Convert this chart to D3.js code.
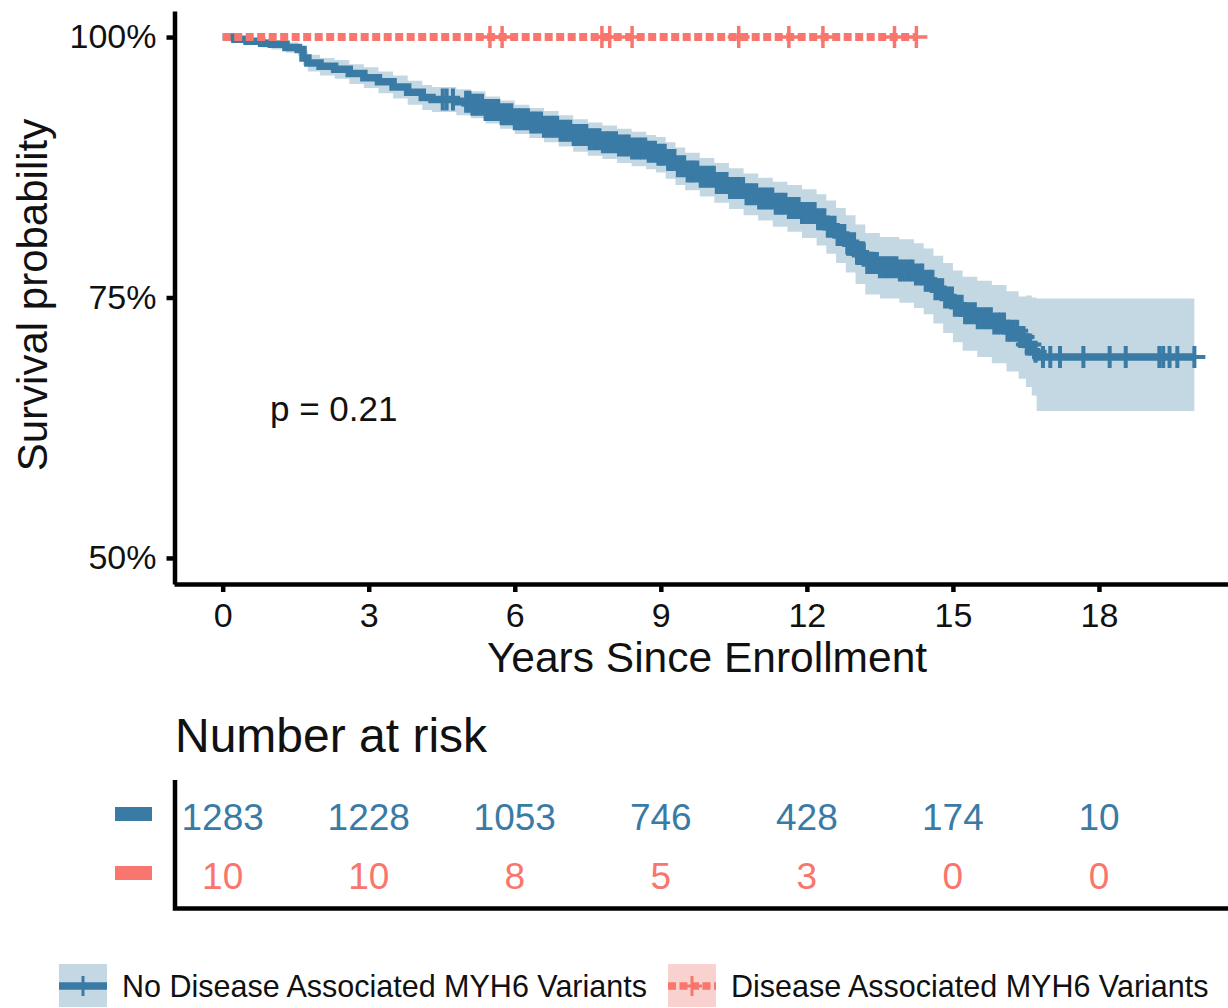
<!DOCTYPE html>
<html><head><meta charset="utf-8">
<script src="https://cdn.jsdelivr.net/npm/d3@7"></script>
<style>
body{margin:0;background:#fff}
svg{display:block}
text{font-family:"Liberation Sans",Arial,Helvetica,sans-serif}
</style>
</head><body>
<svg id="chart" width="1228" height="1008"></svg>
<script>
// ---------- DATA ----------
const groups = ["No Disease Associated MYH6 Variants", "Disease Associated MYH6 Variants"];

const stepTimesNo = [0,0.25,0.5,0.8,1.0,1.3,1.55,1.65,1.75,2.0,2.3,2.6,2.9,3.2,3.5,3.8,4.1,4.3,4.8,5.1,5.4,5.7,6.0,6.3,6.6,6.9,7.2,7.5,7.8,8.1,8.4,8.7,8.9,9.1,9.3,9.5,9.8,10.1,10.4,10.7,11.0,11.3,11.6,11.9,12.2,12.4,12.6,12.8,13.0,13.2,13.5,13.9,14.2,14.4,14.6,14.8,15.0,15.2,15.5,15.8,16.1,16.35,16.5,16.62,16.72,19.96];
const survNo = [1,.998,.996,.994,.993,.990,.988,.980,.975,.972,.969,.965,.961,.957,.952,.947,.942,.940,.938,.935,.930,.926,.921,.918,.914,.910,.906,.902,.899,.896,.893,.890,.887,.882,.876,.871,.866,.860,.855,.849,.845,.840,.836,.831,.825,.818,.810,.802,.792,.783,.779,.776,.772,.766,.758,.750,.742,.735,.730,.725,.718,.712,.705,.698,.693,.693];
const upperNo = [1.000,1.000,.999,.998,.997,.995,.993,.987,.983,.980,.978,.974,.971,.967,.963,.958,.954,.952,.950,.948,.943,.939,.935,.932,.929,.925,.921,.918,.915,.912,.909,.906,.904,.899,.894,.889,.884,.879,.874,.869,.865,.861,.858,.854,.849,.843,.836,.829,.820,.812,.808,.806,.802,.797,.790,.783,.776,.770,.766,.762,.756,.751,.752,.750,.749,.749];
const lowerNo = [.998,.995,.993,.990,.988,.985,.982,.973,.967,.963,.960,.955,.951,.946,.941,.935,.930,.928,.925,.922,.917,.912,.907,.903,.899,.895,.890,.886,.883,.879,.876,.873,.870,.864,.858,.853,.847,.841,.835,.829,.824,.818,.813,.807,.800,.792,.783,.774,.763,.753,.749,.745,.740,.734,.725,.716,.707,.699,.693,.687,.679,.672,.664,.656,.641,.641];
const censorNo = [4.52,4.6,4.73,5.0,5.07,5.13,5.2,5.26,5.33,5.4,5.46,5.53,5.6,5.66,5.73,5.8,5.87,5.93,6.0,6.07,6.13,6.2,6.27,6.34,6.4,6.47,6.54,6.6,6.67,6.74,6.8,6.87,6.94,7.0,7.07,7.14,7.21,7.27,7.34,7.41,7.47,7.54,7.61,7.67,7.74,7.81,7.88,7.94,8.01,8.08,8.14,8.21,8.28,8.34,8.41,8.48,8.55,8.61,8.68,8.75,8.81,8.88,8.95,9.01,9.08,9.15,9.22,9.28,9.35,9.42,9.48,9.55,9.62,9.68,9.75,9.82,9.89,9.95,10.02,10.09,10.15,10.22,10.29,10.35,10.42,10.49,10.56,10.62,10.69,10.76,10.82,10.89,10.96,11.02,11.09,11.16,11.23,11.29,11.36,11.43,11.49,11.56,11.63,11.69,11.76,11.83,11.9,11.96,12.03,12.1,12.16,12.23,12.3,12.36,12.43,12.5,12.57,12.63,12.7,12.77,12.83,12.9,12.97,13.03,13.1,13.17,13.24,13.3,13.37,13.44,13.5,13.57,13.64,13.7,13.77,13.84,13.91,13.97,14.04,14.11,14.17,14.24,14.31,14.37,14.44,14.51,14.58,14.64,14.71,14.78,14.84,14.91,14.98,15.04,15.11,15.18,15.25,15.31,15.38,15.45,15.51,15.58,15.65,15.71,15.78,15.85,15.92,15.98,16.05,16.12,16.18,16.25,16.32,16.38,16.45,16.52,16.59,16.7,16.85,17.0,17.2,17.68,18.22,18.55,19.24,19.32,19.45,19.61,19.96];

const stepTimesYes = [0, 14.25];
const survYes = [1, 1];
const censorYes = [5.49,5.74,7.79,7.95,8.41,10.6,11.63,12.33,13.8,14.25];

const riskTimes = [0,3,6,9,12,15,18];
const riskNo = [1283,1228,1053,746,428,174,10];
const riskYes = [10,10,8,5,3,0,0];

const xTicks = [0,3,6,9,12,15,18];
const yTicks = [0.5,0.75,1];
const yTickLabels = ["50%","75%","100%"];
const pText = "p = 0.21";

// ---------- STYLE ----------
const blue = "#3A7BA6", blueCI = "#C4D8E4";
const red = "#F8766D", redCI = "#F9D2CF";

const svg = d3.select("#chart");
const x = d3.scaleLinear().domain([-1, 21]).range([174, 1245]);
const y = d3.scaleLinear().domain([0.475, 1.025]).range([584, 11]);

const blueData = stepTimesNo.map((t,i)=>({t, s:survNo[i], hi:upperNo[i], lo:lowerNo[i]}));
const redData = stepTimesYes.map((t,i)=>({t, s:survYes[i]}));

// CI ribbon
svg.append("path").datum(blueData)
  .attr("fill", blueCI)
  .attr("d", d3.area().curve(d3.curveStepAfter).x(d=>x(d.t)).y0(d=>y(d.lo)).y1(d=>y(d.hi)));

const line = d3.line().curve(d3.curveStepAfter).x(d=>x(d.t)).y(d=>y(d.s));
svg.append("path").datum(blueData).attr("fill","none").attr("stroke",blue).attr("stroke-width",7.5).attr("d",line);

function survAt(times, surv, t){ const i = d3.bisectRight(times, t) - 1; return surv[Math.max(0,i)]; }
function plus(cx, cy, h){ return `M${cx-h},${cy}H${cx+h}M${cx},${cy-h}V${cy+h}`; }

svg.append("g").selectAll("path").data(censorNo).join("path")
  .attr("d", t=>plus(x(t), y(survAt(stepTimesNo, survNo, t)), 11))
  .attr("stroke", blue).attr("stroke-width", 4).attr("fill","none");

svg.append("path").datum(redData).attr("fill","none").attr("stroke",red).attr("stroke-width",8)
  .attr("stroke-dasharray","8 3.5").attr("d",line);
svg.append("g").selectAll("path").data(censorYes).join("path")
  .attr("d", t=>plus(x(t), y(survAt(stepTimesYes, survYes, t)), 11))
  .attr("stroke", red).attr("stroke-width", 3.5).attr("fill","none");

// Axes
const xAxis = d3.axisBottom(x).tickValues(xTicks).tickSize(8).tickSizeOuter(0).tickPadding(11);
const gx = svg.append("g").attr("transform","translate(0,584)").call(xAxis);
const yAxis = d3.axisLeft(y).tickValues(yTicks).tickFormat((d,i)=>yTickLabels[i]).tickSize(8).tickSizeOuter(0).tickPadding(10);
const gy = svg.append("g").attr("transform","translate(174.5,0)").call(yAxis);
[gx, gy].forEach(g=>{
  g.select(".domain").attr("stroke","#000").attr("stroke-width",4.5);
  g.selectAll(".tick line").attr("stroke","#000").attr("stroke-width",4.5);
  g.selectAll(".tick text").attr("fill","#111").style("font-size","34px").style("font-family","'Liberation Sans',Arial,sans-serif");
});

svg.append("text").attr("transform","translate(47,295) rotate(-90)").attr("text-anchor","middle")
  .style("font-size","42px").attr("fill","#111").text("Survival probability");
svg.append("text").attr("x",707).attr("y",672).attr("text-anchor","middle")
  .style("font-size","42.5px").attr("fill","#111").text("Years Since Enrollment");
svg.append("text").attr("x",270).attr("y",421).style("font-size","35px").attr("fill","#111").text(pText);

// Risk table
svg.append("text").attr("x",175).attr("y",752).style("font-size","48px").attr("fill","#111").text("Number at risk");
const rows = [{vals:riskNo, color:blue, yc:817}, {vals:riskYes, color:red, yc:876}];
rows.forEach(r=>{
  svg.append("rect").attr("x",115).attr("y",r.yc-10).attr("width",37).attr("height",14).attr("fill",r.color);
  svg.append("g").selectAll("text").data(r.vals).join("text")
    .attr("x",(d,i)=>x(riskTimes[i])).attr("y",r.yc+13).attr("text-anchor","middle")
    .style("font-size","37px").attr("fill",r.color).text(d=>d);
});
svg.append("path").attr("d","M175,780V908.5H1228").attr("fill","none").attr("stroke","#000").attr("stroke-width",4.5);

// Legend
const leg = [{label:groups[0], color:blue, fill:blueCI, x:59, dash:null},
             {label:groups[1], color:red, fill:redCI, x:668, dash:"8 3.5"}];
leg.forEach(l=>{
  const g = svg.append("g");
  g.append("rect").attr("x",l.x).attr("y",964).attr("width",48).attr("height",43).attr("fill",l.fill);
  g.append("line").attr("x1",l.x).attr("x2",l.x+48).attr("y1",986).attr("y2",986)
    .attr("stroke",l.color).attr("stroke-width",7.5).attr("stroke-dasharray",l.dash);
  g.append("path").attr("d",plus(l.x+24,986,10)).attr("stroke",l.color).attr("stroke-width",3);
  g.append("text").attr("x",l.x+63).attr("y",997).style("font-size","30.5px").attr("fill","#111").text(l.label);
});
</script>
</body></html>
